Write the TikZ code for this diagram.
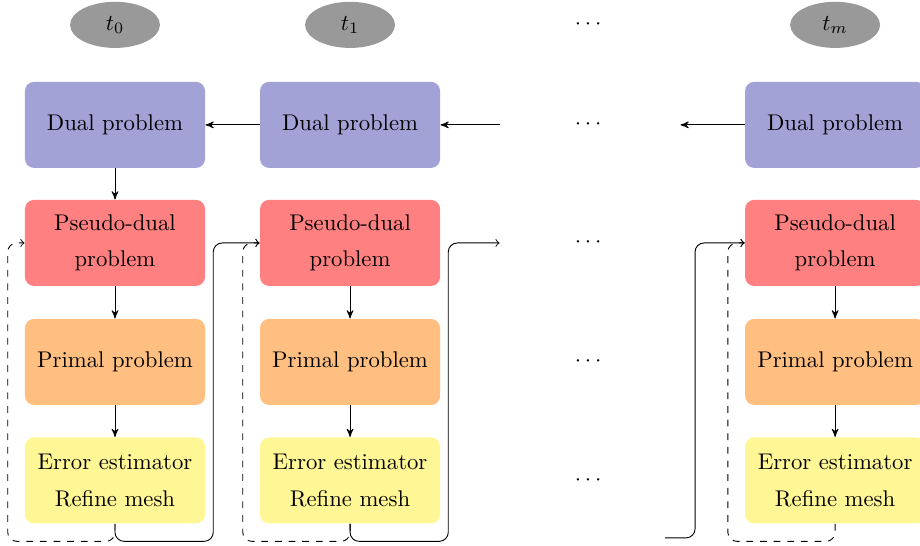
\documentclass[tikz,border=0pt]{standalone}
\usepackage{xcolor}
\usepackage{amsmath}
\usepackage{amssymb}
\usepackage{tikz}
\usetikzlibrary{arrows}
\usetikzlibrary{shapes.geometric}
\definecolor{dualcol}{RGB}{162,162,214}
\definecolor{pseudocol}{RGB}{255,128,128}
\definecolor{primalcol}{RGB}{255,191,128}
\definecolor{errcol}{RGB}{255,246,150}
\tikzset{
 stagebox/.style={rounded corners=4pt, minimum width=79.3pt, minimum height=37.9pt, align=center, inner sep=2pt},
 dualbox/.style={stagebox, fill=dualcol},
 pseudobox/.style={stagebox, fill=pseudocol},
 primalbox/.style={stagebox, fill=primalcol},
 errbox/.style={stagebox, fill=errcol},
 dotsbox/.style={stagebox},
 timenode/.style={ellipse, fill=gray!80, minimum width=39.6pt, minimum height=20.3pt, inner sep=0pt},
 flow/.style={black, -stealth'},
 feedback/.style={black, ->, rounded corners=4pt},
}

\begin{document}
\begin{tikzpicture}
\useasboundingbox (0,0) rectangle (14.24,8.45);
\foreach \c/\x in {0/1.78, 1/5.418, m/12.926} {
 \node[timenode] (time\c) at (\x,8.065) {$t_\c$};
 \node[dualbox] (dual\c) at (\x,6.517) {Dual problem};
 \node[pseudobox] (pseudo\c) at (\x,4.69) {Pseudo-dual\\[4pt]problem};
 \node[primalbox] (primal\c) at (\x,2.848) {Primal problem};
 \node[errbox] (err\c) at (\x,1.014) {Error estimator\\[4pt]Refine mesh};
 \draw[flow] (pseudo\c) -- (primal\c);
 \draw[flow] (primal\c) -- (err\c);
 \draw[feedback, dashed] (err\c.south) |- ([xshift=-.26cm, yshift=-.27cm]err\c.south west) |- (pseudo\c.west);
}
\foreach \y [count=\i from 0] in {8.065,6.517,4.69,2.848,1.014}
 \node[dotsbox] (dots\i) at (9.133,\y) {$\cdots$};

\draw[flow] (dual0) -- (pseudo0);
\draw[flow] (dual1) -- (dual0);
\draw[flow] (dots1) -- (dual1);
\draw[flow] (dualm) -- (dots1);

\draw[feedback] (err0.south) |- ([xshift=.12cm, yshift=-.27cm]err0.south east) |- (pseudo1.west);
\draw[feedback] (err1.south) |- ([xshift=.12cm, yshift=-.27cm]err1.south east) |- (dots2.west);
\coordinate (entm) at (10.294,0.124);
\coordinate (risem) at (10.758,0.124);
\draw[feedback] (entm) -- (risem) |- (pseudom.west);
\end{tikzpicture}
\end{document}
